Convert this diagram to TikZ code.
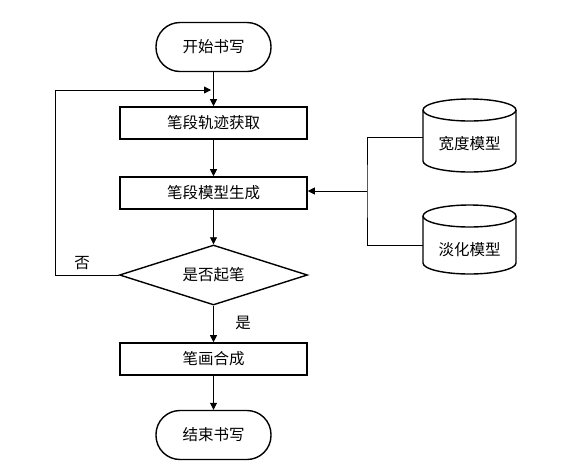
\documentclass[tikz,border=0pt]{standalone}
\usepackage{fontspec}
\newfontfamily\cjk{Noto Sans CJK SC}
\usetikzlibrary{shapes.geometric,arrows.meta}
\tikzset{
  every node/.style={font=\cjk\fontsize{15.5}{18}\selectfont},
  proc/.style={draw, line width=1.6pt, minimum width=187pt, minimum height=32pt, inner sep=0pt},
  term/.style={draw, line width=1.4pt, rounded corners=24pt, minimum width=115pt, minimum height=49pt, inner sep=0pt},
  dec/.style={draw, diamond, line width=1.4pt, minimum width=188pt, minimum height=60pt, aspect=3.13, inner sep=0pt},
  conn/.style={line width=0.8pt},
  arr/.style={conn, -{Triangle[length=7pt,width=7pt]}},
  cylshape/.style={line width=1.4pt},
  lbl/.style={inner sep=0pt}
}
\begin{document}
\begin{tikzpicture}[x=1pt,y=1pt]
\useasboundingbox[fill=white] (0,0) rectangle (563,-475);
% flow nodes
\node[term] (start) at (213.5,-47) {开始书写};
\node[proc] (get) at (213.5,-123) {笔段轨迹获取};
\node[proc] (gen) at (213.5,-193) {笔段模型生成};
\node[dec] (dec) at (213.5,-275) {是否起笔};
\node[proc] (merge) at (213.5,-359) {笔画合成};
\node[term] (end) at (213.5,-435) {结束书写};
% cylinders
\draw[cylshape] (423,-110) -- (423,-161) arc(180:360:46.5 and 11) -- (516,-110) arc(0:180:46.5 and 11) -- cycle;
\draw[cylshape] (423,-110) arc(180:360:46.5 and 11);
\draw[cylshape] (423,-216) -- (423,-263) arc(180:360:46.5 and 11) -- (516,-216) arc(0:180:46.5 and 11) -- cycle;
\draw[cylshape] (423,-216) arc(180:360:46.5 and 11);
\node (wm) at (469.5,-144) {宽度模型};
\node (fm) at (469.5,-250) {淡化模型};
\coordinate (wmL) at (423,-137);
\coordinate (fmL) at (423,-245);
\coordinate (j) at (367,-191);
% connectors
\draw[arr] (start) -- (get);
\draw[arr] (get) -- (gen);
\draw[arr] (gen) -- (dec);
\draw[arr] (dec) -- (merge);
\draw[arr] (merge) -- (end);
\draw[conn] (wmL) -| (j) |- (fmL);
\draw[arr] (j) -- (j -| gen.east);
\coordinate (lpc) at (55,-90);
\coordinate (loopend) at (211,-90);
\draw[arr] (dec.west) -| (lpc) -- (loopend);
% labels
\node[lbl] (no) at (82,-263) {否};
\node[lbl] (yes) at (243,-323) {是};
\end{tikzpicture}
\end{document}
